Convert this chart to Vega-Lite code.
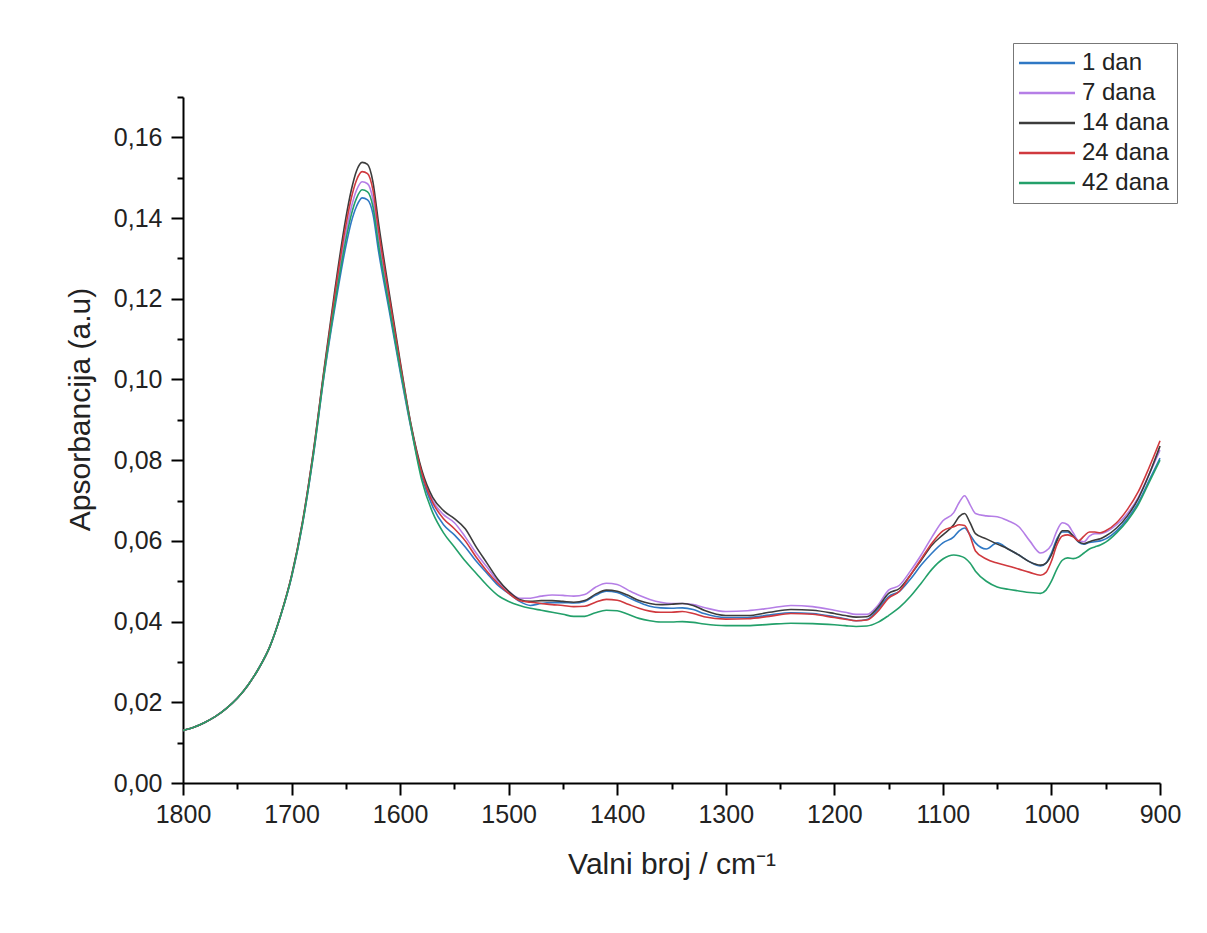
{
"$schema": "https://vega.github.io/schema/vega-lite/v6.json",
"width": 977, "height": 686,
"autosize": {"type": "none"},
"padding": {"left": 183, "top": 97, "right": 47, "bottom": 150},
"background": "white",
"config": {"view": {"stroke": null}, "font": "Liberation Sans"},
"data": {"values": [
{"w":1800,"s":"1 dan","a":0.0130},{"w":1790,"s":"1 dan","a":0.0138},{"w":1780,"s":"1 dan","a":0.0150},{"w":1770,"s":"1 dan","a":0.0165},{"w":1760,"s":"1 dan","a":0.0185},{"w":1750,"s":"1 dan","a":0.0210},{"w":1740,"s":"1 dan","a":0.0243},{"w":1730,"s":"1 dan","a":0.0285},{"w":1720,"s":"1 dan","a":0.0338},{"w":1710,"s":"1 dan","a":0.0415},{"w":1700,"s":"1 dan","a":0.0510},{"w":1690,"s":"1 dan","a":0.0640},{"w":1680,"s":"1 dan","a":0.0810},{"w":1670,"s":"1 dan","a":0.1010},
{"w":1660,"s":"1 dan","a":0.118},{"w":1650,"s":"1 dan","a":0.133},{"w":1645,"s":"1 dan","a":0.139},{"w":1640,"s":"1 dan","a":0.143},{"w":1635,"s":"1 dan","a":0.145},{"w":1630,"s":"1 dan","a":0.1445},{"w":1625,"s":"1 dan","a":0.141},{"w":1620,"s":"1 dan","a":0.132},{"w":1610,"s":"1 dan","a":0.117},{"w":1600,"s":"1 dan","a":0.102},{"w":1590,"s":"1 dan","a":0.088},
{"w":1580,"s":"1 dan","a":0.0760},{"w":1570,"s":"1 dan","a":0.0685},{"w":1560,"s":"1 dan","a":0.0640},{"w":1550,"s":"1 dan","a":0.0615},{"w":1540,"s":"1 dan","a":0.0585},{"w":1530,"s":"1 dan","a":0.0550},{"w":1520,"s":"1 dan","a":0.0520},{"w":1510,"s":"1 dan","a":0.0490},{"w":1500,"s":"1 dan","a":0.0470},{"w":1490,"s":"1 dan","a":0.0450},{"w":1480,"s":"1 dan","a":0.0440},
{"w":1470,"s":"1 dan","a":0.0445},{"w":1460,"s":"1 dan","a":0.0447},{"w":1450,"s":"1 dan","a":0.0447},{"w":1440,"s":"1 dan","a":0.0446},{"w":1430,"s":"1 dan","a":0.0450},{"w":1420,"s":"1 dan","a":0.0465},{"w":1410,"s":"1 dan","a":0.0475},{"w":1400,"s":"1 dan","a":0.0472},{"w":1390,"s":"1 dan","a":0.0460},{"w":1380,"s":"1 dan","a":0.0448},{"w":1370,"s":"1 dan","a":0.0438},{"w":1360,"s":"1 dan","a":0.0434},{"w":1350,"s":"1 dan","a":0.0433},{"w":1340,"s":"1 dan","a":0.0434},{"w":1330,"s":"1 dan","a":0.0430},{"w":1320,"s":"1 dan","a":0.0420},{"w":1300,"s":"1 dan","a":0.0410},{"w":1280,"s":"1 dan","a":0.0410},{"w":1260,"s":"1 dan","a":0.0416},{"w":1240,"s":"1 dan","a":0.0422},{"w":1220,"s":"1 dan","a":0.0420},{"w":1200,"s":"1 dan","a":0.0412},{"w":1190,"s":"1 dan","a":0.0407},{"w":1180,"s":"1 dan","a":0.0402},{"w":1170,"s":"1 dan","a":0.0405},{"w":1160,"s":"1 dan","a":0.0430},{"w":1150,"s":"1 dan","a":0.0462},{"w":1140,"s":"1 dan","a":0.0475},{"w":1130,"s":"1 dan","a":0.0505},{"w":1120,"s":"1 dan","a":0.0540},{"w":1110,"s":"1 dan","a":0.0570},{"w":1100,"s":"1 dan","a":0.0595},{"w":1090,"s":"1 dan","a":0.0610},{"w":1085,"s":"1 dan","a":0.0625},{"w":1080,"s":"1 dan","a":0.0632},{"w":1075,"s":"1 dan","a":0.0615},{"w":1070,"s":"1 dan","a":0.0595},{"w":1060,"s":"1 dan","a":0.0580},{"w":1050,"s":"1 dan","a":0.0595},{"w":1040,"s":"1 dan","a":0.0580},{"w":1030,"s":"1 dan","a":0.0565},{"w":1020,"s":"1 dan","a":0.0548},{"w":1010,"s":"1 dan","a":0.0538},{"w":1005,"s":"1 dan","a":0.0545},{"w":1000,"s":"1 dan","a":0.0570},{"w":995,"s":"1 dan","a":0.0605},{"w":990,"s":"1 dan","a":0.0622},{"w":985,"s":"1 dan","a":0.0622},{"w":980,"s":"1 dan","a":0.0612},{"w":975,"s":"1 dan","a":0.0597},{"w":970,"s":"1 dan","a":0.0592},{"w":965,"s":"1 dan","a":0.0596},{"w":960,"s":"1 dan","a":0.0598},{"w":955,"s":"1 dan","a":0.0600},{"w":950,"s":"1 dan","a":0.0605},{"w":940,"s":"1 dan","a":0.0625},{"w":930,"s":"1 dan","a":0.0655},{"w":920,"s":"1 dan","a":0.0695},{"w":910,"s":"1 dan","a":0.0750},{"w":900,"s":"1 dan","a":0.0805},

{"w":1800,"s":"7 dana","a":0.0130},{"w":1790,"s":"7 dana","a":0.0138},{"w":1780,"s":"7 dana","a":0.0150},{"w":1770,"s":"7 dana","a":0.0165},{"w":1760,"s":"7 dana","a":0.0185},{"w":1750,"s":"7 dana","a":0.0210},{"w":1740,"s":"7 dana","a":0.0243},{"w":1730,"s":"7 dana","a":0.0285},{"w":1720,"s":"7 dana","a":0.0338},{"w":1710,"s":"7 dana","a":0.0415},{"w":1700,"s":"7 dana","a":0.0512},{"w":1690,"s":"7 dana","a":0.0643},{"w":1680,"s":"7 dana","a":0.0815},{"w":1670,"s":"7 dana","a":0.1018},
{"w":1660,"s":"7 dana","a":0.120},{"w":1650,"s":"7 dana","a":0.1362},{"w":1645,"s":"7 dana","a":0.1426},{"w":1640,"s":"7 dana","a":0.147},{"w":1635,"s":"7 dana","a":0.149},{"w":1630,"s":"7 dana","a":0.1485},{"w":1625,"s":"7 dana","a":0.1446},{"w":1620,"s":"7 dana","a":0.1352},{"w":1610,"s":"7 dana","a":0.119},{"w":1600,"s":"7 dana","a":0.1032},{"w":1590,"s":"7 dana","a":0.0884},
{"w":1580,"s":"7 dana","a":0.0770},{"w":1570,"s":"7 dana","a":0.0700},{"w":1560,"s":"7 dana","a":0.0665},{"w":1550,"s":"7 dana","a":0.0645},{"w":1540,"s":"7 dana","a":0.0610},{"w":1530,"s":"7 dana","a":0.0570},{"w":1520,"s":"7 dana","a":0.0535},{"w":1510,"s":"7 dana","a":0.0500},{"w":1500,"s":"7 dana","a":0.0475},{"w":1490,"s":"7 dana","a":0.0458},{"w":1480,"s":"7 dana","a":0.0458},
{"w":1470,"s":"7 dana","a":0.0463},{"w":1460,"s":"7 dana","a":0.0466},{"w":1450,"s":"7 dana","a":0.0465},{"w":1440,"s":"7 dana","a":0.0463},{"w":1430,"s":"7 dana","a":0.0467},{"w":1420,"s":"7 dana","a":0.0485},{"w":1410,"s":"7 dana","a":0.0495},{"w":1400,"s":"7 dana","a":0.0492},{"w":1390,"s":"7 dana","a":0.0478},{"w":1380,"s":"7 dana","a":0.0465},{"w":1370,"s":"7 dana","a":0.0455},{"w":1360,"s":"7 dana","a":0.0448},{"w":1350,"s":"7 dana","a":0.0445},{"w":1340,"s":"7 dana","a":0.0445},{"w":1330,"s":"7 dana","a":0.0442},{"w":1320,"s":"7 dana","a":0.0435},{"w":1300,"s":"7 dana","a":0.0425},{"w":1280,"s":"7 dana","a":0.0427},{"w":1260,"s":"7 dana","a":0.0433},{"w":1240,"s":"7 dana","a":0.0440},{"w":1220,"s":"7 dana","a":0.0437},{"w":1200,"s":"7 dana","a":0.0428},{"w":1190,"s":"7 dana","a":0.0423},{"w":1180,"s":"7 dana","a":0.0418},{"w":1170,"s":"7 dana","a":0.0418},{"w":1160,"s":"7 dana","a":0.0440},{"w":1150,"s":"7 dana","a":0.0478},{"w":1140,"s":"7 dana","a":0.0490},{"w":1130,"s":"7 dana","a":0.0525},{"w":1120,"s":"7 dana","a":0.0565},{"w":1110,"s":"7 dana","a":0.0610},{"w":1100,"s":"7 dana","a":0.0650},{"w":1090,"s":"7 dana","a":0.0670},{"w":1085,"s":"7 dana","a":0.0695},{"w":1080,"s":"7 dana","a":0.0712},{"w":1075,"s":"7 dana","a":0.0690},{"w":1070,"s":"7 dana","a":0.0668},{"w":1060,"s":"7 dana","a":0.0662},{"w":1050,"s":"7 dana","a":0.0660},{"w":1040,"s":"7 dana","a":0.0650},{"w":1030,"s":"7 dana","a":0.0635},{"w":1020,"s":"7 dana","a":0.0600},{"w":1010,"s":"7 dana","a":0.0570},{"w":1005,"s":"7 dana","a":0.0575},{"w":1000,"s":"7 dana","a":0.0590},{"w":995,"s":"7 dana","a":0.0625},{"w":990,"s":"7 dana","a":0.0645},{"w":985,"s":"7 dana","a":0.0640},{"w":980,"s":"7 dana","a":0.0620},{"w":975,"s":"7 dana","a":0.0600},{"w":970,"s":"7 dana","a":0.0598},{"w":965,"s":"7 dana","a":0.0612},{"w":960,"s":"7 dana","a":0.0618},{"w":955,"s":"7 dana","a":0.0618},{"w":950,"s":"7 dana","a":0.0622},{"w":940,"s":"7 dana","a":0.0640},{"w":930,"s":"7 dana","a":0.0668},{"w":920,"s":"7 dana","a":0.0708},{"w":910,"s":"7 dana","a":0.0765},{"w":900,"s":"7 dana","a":0.0825},

{"w":1800,"s":"14 dana","a":0.0130},{"w":1790,"s":"14 dana","a":0.0138},{"w":1780,"s":"14 dana","a":0.0150},{"w":1770,"s":"14 dana","a":0.0165},{"w":1760,"s":"14 dana","a":0.0185},{"w":1750,"s":"14 dana","a":0.0210},{"w":1740,"s":"14 dana","a":0.0243},{"w":1730,"s":"14 dana","a":0.0285},{"w":1720,"s":"14 dana","a":0.0338},{"w":1710,"s":"14 dana","a":0.0416},{"w":1700,"s":"14 dana","a":0.0514},{"w":1690,"s":"14 dana","a":0.0646},{"w":1680,"s":"14 dana","a":0.0820},{"w":1670,"s":"14 dana","a":0.1026},
{"w":1660,"s":"14 dana","a":0.1224},{"w":1650,"s":"14 dana","a":0.1400},{"w":1645,"s":"14 dana","a":0.1469},{"w":1640,"s":"14 dana","a":0.1518},{"w":1635,"s":"14 dana","a":0.1538},{"w":1630,"s":"14 dana","a":0.1533},{"w":1625,"s":"14 dana","a":0.1489},{"w":1620,"s":"14 dana","a":0.1390},{"w":1610,"s":"14 dana","a":0.1214},{"w":1600,"s":"14 dana","a":0.1046},{"w":1590,"s":"14 dana","a":0.0889},
{"w":1580,"s":"14 dana","a":0.0775},{"w":1570,"s":"14 dana","a":0.0708},{"w":1560,"s":"14 dana","a":0.0675},{"w":1550,"s":"14 dana","a":0.0655},{"w":1540,"s":"14 dana","a":0.0630},{"w":1530,"s":"14 dana","a":0.0585},{"w":1520,"s":"14 dana","a":0.0545},{"w":1510,"s":"14 dana","a":0.0505},{"w":1500,"s":"14 dana","a":0.0475},{"w":1490,"s":"14 dana","a":0.0455},{"w":1480,"s":"14 dana","a":0.0450},
{"w":1470,"s":"14 dana","a":0.0452},{"w":1460,"s":"14 dana","a":0.0452},{"w":1450,"s":"14 dana","a":0.0450},{"w":1440,"s":"14 dana","a":0.0448},{"w":1430,"s":"14 dana","a":0.0452},{"w":1420,"s":"14 dana","a":0.0468},{"w":1410,"s":"14 dana","a":0.0478},{"w":1400,"s":"14 dana","a":0.0475},{"w":1390,"s":"14 dana","a":0.0465},{"w":1380,"s":"14 dana","a":0.0452},{"w":1370,"s":"14 dana","a":0.0445},{"w":1360,"s":"14 dana","a":0.0442},{"w":1350,"s":"14 dana","a":0.0443},{"w":1340,"s":"14 dana","a":0.0445},{"w":1330,"s":"14 dana","a":0.0440},{"w":1320,"s":"14 dana","a":0.0428},{"w":1300,"s":"14 dana","a":0.0415},{"w":1280,"s":"14 dana","a":0.0415},{"w":1260,"s":"14 dana","a":0.0423},{"w":1240,"s":"14 dana","a":0.0430},{"w":1220,"s":"14 dana","a":0.0428},{"w":1200,"s":"14 dana","a":0.0420},{"w":1190,"s":"14 dana","a":0.0415},{"w":1180,"s":"14 dana","a":0.0411},{"w":1170,"s":"14 dana","a":0.0412},{"w":1160,"s":"14 dana","a":0.0435},{"w":1150,"s":"14 dana","a":0.0470},{"w":1140,"s":"14 dana","a":0.0482},{"w":1130,"s":"14 dana","a":0.0515},{"w":1120,"s":"14 dana","a":0.0552},{"w":1110,"s":"14 dana","a":0.0590},{"w":1100,"s":"14 dana","a":0.0615},{"w":1090,"s":"14 dana","a":0.0640},{"w":1085,"s":"14 dana","a":0.0660},{"w":1080,"s":"14 dana","a":0.0668},{"w":1075,"s":"14 dana","a":0.0645},{"w":1070,"s":"14 dana","a":0.0618},{"w":1060,"s":"14 dana","a":0.0605},{"w":1050,"s":"14 dana","a":0.0592},{"w":1040,"s":"14 dana","a":0.0580},{"w":1030,"s":"14 dana","a":0.0565},{"w":1020,"s":"14 dana","a":0.0548},{"w":1010,"s":"14 dana","a":0.0540},{"w":1005,"s":"14 dana","a":0.0545},{"w":1000,"s":"14 dana","a":0.0565},{"w":995,"s":"14 dana","a":0.0600},{"w":990,"s":"14 dana","a":0.0625},{"w":985,"s":"14 dana","a":0.0625},{"w":980,"s":"14 dana","a":0.0612},{"w":975,"s":"14 dana","a":0.0598},{"w":970,"s":"14 dana","a":0.0593},{"w":965,"s":"14 dana","a":0.0598},{"w":960,"s":"14 dana","a":0.0602},{"w":955,"s":"14 dana","a":0.0605},{"w":950,"s":"14 dana","a":0.0612},{"w":940,"s":"14 dana","a":0.0632},{"w":930,"s":"14 dana","a":0.0662},{"w":920,"s":"14 dana","a":0.0705},{"w":910,"s":"14 dana","a":0.0765},{"w":900,"s":"14 dana","a":0.0835},

{"w":1800,"s":"24 dana","a":0.0130},{"w":1790,"s":"24 dana","a":0.0138},{"w":1780,"s":"24 dana","a":0.0150},{"w":1770,"s":"24 dana","a":0.0165},{"w":1760,"s":"24 dana","a":0.0185},{"w":1750,"s":"24 dana","a":0.0210},{"w":1740,"s":"24 dana","a":0.0243},{"w":1730,"s":"24 dana","a":0.0285},{"w":1720,"s":"24 dana","a":0.0338},{"w":1710,"s":"24 dana","a":0.0416},{"w":1700,"s":"24 dana","a":0.0513},{"w":1690,"s":"24 dana","a":0.0645},{"w":1680,"s":"24 dana","a":0.0818},{"w":1670,"s":"24 dana","a":0.1022},
{"w":1660,"s":"24 dana","a":0.1213},{"w":1650,"s":"24 dana","a":0.1382},{"w":1645,"s":"24 dana","a":0.1449},{"w":1640,"s":"24 dana","a":0.1495},{"w":1635,"s":"24 dana","a":0.1515},{"w":1630,"s":"24 dana","a":0.1510},{"w":1625,"s":"24 dana","a":0.1469},{"w":1620,"s":"24 dana","a":0.1372},{"w":1610,"s":"24 dana","a":0.1203},{"w":1600,"s":"24 dana","a":0.1040},{"w":1590,"s":"24 dana","a":0.0887},
{"w":1580,"s":"24 dana","a":0.0768},{"w":1570,"s":"24 dana","a":0.0695},{"w":1560,"s":"24 dana","a":0.0655},{"w":1550,"s":"24 dana","a":0.0630},{"w":1540,"s":"24 dana","a":0.0600},{"w":1530,"s":"24 dana","a":0.0560},{"w":1520,"s":"24 dana","a":0.0525},{"w":1510,"s":"24 dana","a":0.0495},{"w":1500,"s":"24 dana","a":0.0470},{"w":1490,"s":"24 dana","a":0.0452},{"w":1480,"s":"24 dana","a":0.0448},
{"w":1470,"s":"24 dana","a":0.0445},{"w":1460,"s":"24 dana","a":0.0442},{"w":1450,"s":"24 dana","a":0.0440},{"w":1440,"s":"24 dana","a":0.0437},{"w":1430,"s":"24 dana","a":0.0438},{"w":1420,"s":"24 dana","a":0.0448},{"w":1410,"s":"24 dana","a":0.0455},{"w":1400,"s":"24 dana","a":0.0453},{"w":1390,"s":"24 dana","a":0.0443},{"w":1380,"s":"24 dana","a":0.0433},{"w":1370,"s":"24 dana","a":0.0426},{"w":1360,"s":"24 dana","a":0.0423},{"w":1350,"s":"24 dana","a":0.0423},{"w":1340,"s":"24 dana","a":0.0425},{"w":1330,"s":"24 dana","a":0.0420},{"w":1320,"s":"24 dana","a":0.0412},{"w":1300,"s":"24 dana","a":0.0406},{"w":1280,"s":"24 dana","a":0.0407},{"w":1260,"s":"24 dana","a":0.0413},{"w":1240,"s":"24 dana","a":0.0420},{"w":1220,"s":"24 dana","a":0.0418},{"w":1200,"s":"24 dana","a":0.0410},{"w":1190,"s":"24 dana","a":0.0406},{"w":1180,"s":"24 dana","a":0.0402},{"w":1170,"s":"24 dana","a":0.0404},{"w":1160,"s":"24 dana","a":0.0425},{"w":1150,"s":"24 dana","a":0.0458},{"w":1140,"s":"24 dana","a":0.0475},{"w":1130,"s":"24 dana","a":0.0515},{"w":1120,"s":"24 dana","a":0.0555},{"w":1110,"s":"24 dana","a":0.0595},{"w":1100,"s":"24 dana","a":0.0625},{"w":1090,"s":"24 dana","a":0.0635},{"w":1085,"s":"24 dana","a":0.0640},{"w":1080,"s":"24 dana","a":0.0638},{"w":1075,"s":"24 dana","a":0.0612},{"w":1070,"s":"24 dana","a":0.0575},{"w":1060,"s":"24 dana","a":0.0555},{"w":1050,"s":"24 dana","a":0.0545},{"w":1040,"s":"24 dana","a":0.0538},{"w":1030,"s":"24 dana","a":0.0530},{"w":1020,"s":"24 dana","a":0.0522},{"w":1010,"s":"24 dana","a":0.0515},{"w":1005,"s":"24 dana","a":0.0522},{"w":1000,"s":"24 dana","a":0.0550},{"w":995,"s":"24 dana","a":0.0590},{"w":990,"s":"24 dana","a":0.0612},{"w":985,"s":"24 dana","a":0.0615},{"w":980,"s":"24 dana","a":0.0610},{"w":975,"s":"24 dana","a":0.0600},{"w":970,"s":"24 dana","a":0.0612},{"w":965,"s":"24 dana","a":0.0622},{"w":960,"s":"24 dana","a":0.0622},{"w":955,"s":"24 dana","a":0.0620},{"w":950,"s":"24 dana","a":0.0625},{"w":940,"s":"24 dana","a":0.0645},{"w":930,"s":"24 dana","a":0.0678},{"w":920,"s":"24 dana","a":0.0722},{"w":910,"s":"24 dana","a":0.0782},{"w":900,"s":"24 dana","a":0.0848},

{"w":1800,"s":"42 dana","a":0.0130},{"w":1790,"s":"42 dana","a":0.0138},{"w":1780,"s":"42 dana","a":0.0150},{"w":1770,"s":"42 dana","a":0.0165},{"w":1760,"s":"42 dana","a":0.0185},{"w":1750,"s":"42 dana","a":0.0210},{"w":1740,"s":"42 dana","a":0.0243},{"w":1730,"s":"42 dana","a":0.0285},{"w":1720,"s":"42 dana","a":0.0338},{"w":1710,"s":"42 dana","a":0.0415},{"w":1700,"s":"42 dana","a":0.0511},{"w":1690,"s":"42 dana","a":0.0641},{"w":1680,"s":"42 dana","a":0.0812},{"w":1670,"s":"42 dana","a":0.1014},
{"w":1660,"s":"42 dana","a":0.1190},{"w":1650,"s":"42 dana","a":0.1346},{"w":1645,"s":"42 dana","a":0.1408},{"w":1640,"s":"42 dana","a":0.1450},{"w":1635,"s":"42 dana","a":0.1470},{"w":1630,"s":"42 dana","a":0.1465},{"w":1625,"s":"42 dana","a":0.1428},{"w":1620,"s":"42 dana","a":0.1336},{"w":1610,"s":"42 dana","a":0.1180},{"w":1600,"s":"42 dana","a":0.1026},{"w":1590,"s":"42 dana","a":0.0882},
{"w":1580,"s":"42 dana","a":0.0750},{"w":1570,"s":"42 dana","a":0.0670},{"w":1560,"s":"42 dana","a":0.0620},{"w":1550,"s":"42 dana","a":0.0585},{"w":1540,"s":"42 dana","a":0.0550},{"w":1530,"s":"42 dana","a":0.0520},{"w":1520,"s":"42 dana","a":0.0490},{"w":1510,"s":"42 dana","a":0.0465},{"w":1500,"s":"42 dana","a":0.0450},{"w":1490,"s":"42 dana","a":0.0440},{"w":1480,"s":"42 dana","a":0.0433},
{"w":1470,"s":"42 dana","a":0.0428},{"w":1460,"s":"42 dana","a":0.0423},{"w":1450,"s":"42 dana","a":0.0418},{"w":1440,"s":"42 dana","a":0.0413},{"w":1430,"s":"42 dana","a":0.0413},{"w":1420,"s":"42 dana","a":0.0422},{"w":1410,"s":"42 dana","a":0.0428},{"w":1400,"s":"42 dana","a":0.0427},{"w":1390,"s":"42 dana","a":0.0418},{"w":1380,"s":"42 dana","a":0.0408},{"w":1370,"s":"42 dana","a":0.0402},{"w":1360,"s":"42 dana","a":0.0399},{"w":1350,"s":"42 dana","a":0.0399},{"w":1340,"s":"42 dana","a":0.0400},{"w":1330,"s":"42 dana","a":0.0398},{"w":1320,"s":"42 dana","a":0.0394},{"w":1300,"s":"42 dana","a":0.0390},{"w":1280,"s":"42 dana","a":0.0390},{"w":1260,"s":"42 dana","a":0.0393},{"w":1240,"s":"42 dana","a":0.0396},{"w":1220,"s":"42 dana","a":0.0395},{"w":1200,"s":"42 dana","a":0.0392},{"w":1190,"s":"42 dana","a":0.0390},{"w":1180,"s":"42 dana","a":0.0388},{"w":1170,"s":"42 dana","a":0.0389},{"w":1160,"s":"42 dana","a":0.0398},{"w":1150,"s":"42 dana","a":0.0415},{"w":1140,"s":"42 dana","a":0.0435},{"w":1130,"s":"42 dana","a":0.0462},{"w":1120,"s":"42 dana","a":0.0495},{"w":1110,"s":"42 dana","a":0.0530},{"w":1100,"s":"42 dana","a":0.0555},{"w":1090,"s":"42 dana","a":0.0565},{"w":1085,"s":"42 dana","a":0.0563},{"w":1080,"s":"42 dana","a":0.0558},{"w":1075,"s":"42 dana","a":0.0545},{"w":1070,"s":"42 dana","a":0.0525},{"w":1060,"s":"42 dana","a":0.0500},{"w":1050,"s":"42 dana","a":0.0486},{"w":1040,"s":"42 dana","a":0.0480},{"w":1030,"s":"42 dana","a":0.0476},{"w":1020,"s":"42 dana","a":0.0472},{"w":1010,"s":"42 dana","a":0.0470},{"w":1005,"s":"42 dana","a":0.0478},{"w":1000,"s":"42 dana","a":0.0500},{"w":995,"s":"42 dana","a":0.0530},{"w":990,"s":"42 dana","a":0.0552},{"w":985,"s":"42 dana","a":0.0558},{"w":980,"s":"42 dana","a":0.0556},{"w":975,"s":"42 dana","a":0.0560},{"w":970,"s":"42 dana","a":0.0570},{"w":965,"s":"42 dana","a":0.0580},{"w":960,"s":"42 dana","a":0.0585},{"w":955,"s":"42 dana","a":0.0590},{"w":950,"s":"42 dana","a":0.0597},{"w":940,"s":"42 dana","a":0.0620},{"w":930,"s":"42 dana","a":0.0650},{"w":920,"s":"42 dana","a":0.0690},{"w":910,"s":"42 dana","a":0.0745},{"w":900,"s":"42 dana","a":0.0800}
]},
"mark": {"type": "line", "strokeWidth": 1.6, "interpolate": "monotone"},
"encoding": {
  "x": {"field": "w", "type": "quantitative",
    "scale": {"domain": [900, 1800], "reverse": true, "nice": false, "zero": false},
    "axis": {"values": [900,950,1000,1050,1100,1150,1200,1250,1300,1350,1400,1450,1500,1550,1600,1650,1700,1750,1800],
      "format": "d", "labelExpr": "datum.value % 100 === 0 ? datum.label : ''",
      "tickSize": {"condition": {"test": "datum.value % 100 === 0", "value": 12}, "value": 6},
      "grid": false, "domainColor": "#000", "domainWidth": 2, "tickColor": "#000", "tickWidth": 2,
      "labelFontSize": 25, "labelColor": "#222", "labelPadding": 7, "labelFlush": false, "labelOverlap": false,
      "title": "Valni broj / cm⁻¹", "titleFontSize": 30, "titleFontWeight": "normal", "titleColor": "#222", "titlePadding": 22}},
  "y": {"field": "a", "type": "quantitative",
    "scale": {"domain": [0, 0.17], "nice": false},
    "axis": {"values": [0,0.01,0.02,0.03,0.04,0.05,0.06,0.07,0.08,0.09,0.1,0.11,0.12,0.13,0.14,0.15,0.16,0.17],
      "labelExpr": "round(datum.value*100) % 2 === 0 ? replace(format(datum.value, '.2f'), '.', ',') : ''",
      "tickSize": {"condition": {"test": "round(datum.value*100) % 2 === 0", "value": 12}, "value": 6},
      "grid": false, "domainColor": "#000", "domainWidth": 2, "tickColor": "#000", "tickWidth": 2,
      "labelFontSize": 25, "labelColor": "#222", "labelPadding": 9, "labelFlush": false, "labelOverlap": false,
      "title": "Apsorbancija (a.u)", "titleFontSize": 30, "titleFontWeight": "normal", "titleColor": "#222", "titlePadding": 18, "titleY": 312}},
  "color": {"field": "s", "type": "nominal",
    "scale": {"domain": ["1 dan", "7 dana", "14 dana", "24 dana", "42 dana"],
              "range": ["#2f78c4", "#b57ee6", "#3c3c3c", "#d0393e", "#23a06a"]},
    "legend": {"orient": "none", "legendX": 830, "legendY": -54, "title": null,
      "strokeColor": "#777", "fillColor": "white", "padding": 8,
      "symbolType": "M-2,0H6", "symbolSize": 196, "symbolStrokeWidth": 2.5,
      "labelFontSize": 24, "labelColor": "#222", "labelOffset": 37, "rowPadding": 6}}
}
}
